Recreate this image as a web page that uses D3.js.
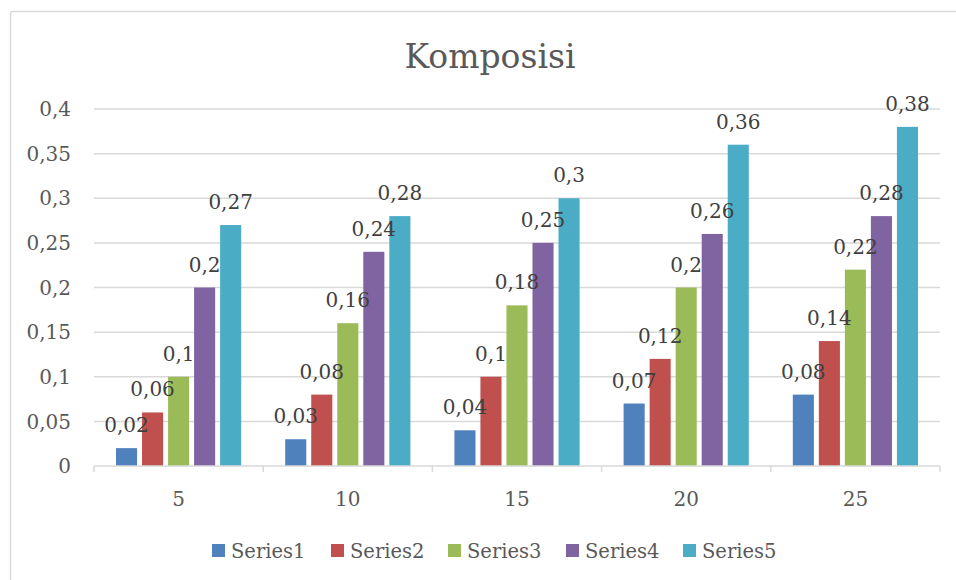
<!DOCTYPE html>
<html><head><meta charset="utf-8">
<script src="https://cdn.jsdelivr.net/npm/d3@7"></script>
<style>body{margin:0;background:#fff}svg{display:block}text{font-family:"DejaVu Serif",serif}</style>
</head><body><svg id="c" width="956" height="580"></svg>
<script>
const categories = ["5","10","15","20","25"];
const seriesNames = ["Series1","Series2","Series3","Series4","Series5"];
const series1 = [0.02,0.03,0.04,0.07,0.08];
const series2 = [0.06,0.08,0.1,0.12,0.14];
const series3 = [0.1,0.16,0.18,0.2,0.22];
const series4 = [0.2,0.24,0.25,0.26,0.28];
const series5 = [0.27,0.28,0.3,0.36,0.38];
const yTicks = [0,0.05,0.1,0.15,0.2,0.25,0.3,0.35,0.4];
const colors = ["#4F81BD","#C0504D","#9BBB59","#8064A2","#4BACC6"];
const allSeries = [series1,series2,series3,series4,series5];

const svg = d3.select("#c");
const fmt = v => String(v).replace(".", ",");

// outer frame
svg.append("rect").attr("x",10.5).attr("y",11.5).attr("width",960).attr("height",600)
  .attr("fill","none").attr("stroke","#d9d9d9").attr("stroke-width",1.5).attr("rx",2);

const pL=94, pR=940, pT=109, pB=466;
const y = d3.scaleLinear().domain([0,0.4]).range([pB,pT]);
const x0 = d3.scaleBand().domain(categories).range([pL,pR]).padding(0);
const x1 = d3.scaleBand().domain(seriesNames).range([22, x0.bandwidth()-22]).paddingInner(0.19).paddingOuter(0);

// title
svg.append("text").attr("x",490).attr("y",68).attr("text-anchor","middle")
  .attr("font-size",33).attr("fill","#595959").text("Komposisi");

// gridlines
svg.append("g").selectAll("line").data(yTicks.filter(d=>d>0)).join("line")
  .attr("x1",pL).attr("x2",pR).attr("y1",d=>y(d)).attr("y2",d=>y(d))
  .attr("stroke","#d9d9d9").attr("stroke-width",1.5);

// y tick labels
svg.append("g").selectAll("text").data(yTicks).join("text")
  .attr("x",71).attr("y",d=>y(d)).attr("dy","0.36em").attr("text-anchor","end")
  .attr("font-size",20).attr("fill","#595959").text(d=>fmt(d));

// bars
const groups = svg.append("g").selectAll("g").data(categories).join("g")
  .attr("transform",c=>`translate(${x0(c)},0)`);
groups.selectAll("rect").data((c,i)=>seriesNames.map((s,j)=>({s,v:allSeries[j][i],j}))).join("rect")
  .attr("x",d=>x1(d.s)).attr("width",x1.bandwidth())
  .attr("y",d=>y(d.v)).attr("height",d=>y(0)-y(d.v))
  .attr("fill",d=>colors[d.j]);
groups.selectAll("text").data((c,i)=>seriesNames.map((s,j)=>({s,v:allSeries[j][i],j}))).join("text")
  .attr("x",d=>x1(d.s)+x1.bandwidth()/2).attr("y",d=>y(d.v)-16)
  .attr("text-anchor","middle").attr("font-size",20).attr("fill","#404040")
  .text(d=>fmt(d.v));

// x axis
svg.append("line").attr("x1",pL).attr("x2",pR).attr("y1",pB).attr("y2",pB)
  .attr("stroke","#d9d9d9").attr("stroke-width",1.5);
const edges = categories.map(c=>x0(c)).concat([pR]);
svg.append("g").selectAll("line").data(edges).join("line")
  .attr("x1",d=>d).attr("x2",d=>d).attr("y1",pB).attr("y2",pB+6)
  .attr("stroke","#d9d9d9").attr("stroke-width",1.5);
svg.append("g").selectAll("text").data(categories).join("text")
  .attr("x",c=>x0(c)+x0.bandwidth()/2).attr("y",506).attr("text-anchor","middle")
  .attr("font-size",20).attr("fill","#595959").text(c=>c);

// legend
const legX = [212,331,448,566,683];
const leg = svg.append("g").selectAll("g").data(seriesNames).join("g")
  .attr("transform",(d,i)=>`translate(${legX[i]},544)`);
leg.append("rect").attr("width",13).attr("height",13).attr("fill",(d,i)=>colors[i]);
leg.append("text").attr("x",19).attr("y",13.5).attr("font-size",19.5).attr("fill","#595959").text(d=>d);
</script></body></html>
